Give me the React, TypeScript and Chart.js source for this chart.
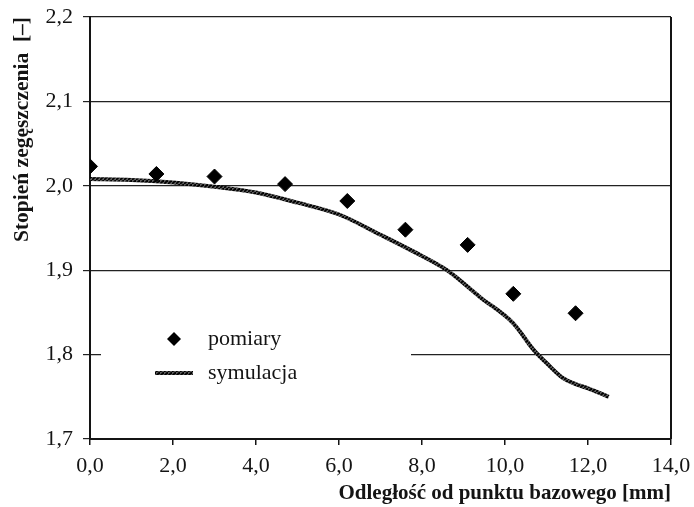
import React, { useEffect, useRef } from 'react';
import { Chart, registerables } from 'chart.js';

Chart.register(...registerables);

// ---- data ----
const measuredX = [0.0, 1.6, 3.0, 4.7, 6.2, 7.6, 9.1, 10.2, 11.7];
const measuredY = [2.023, 2.014, 2.011, 2.002, 1.982, 1.948, 1.930, 1.872, 1.849];

const simX = [0.0, 1.0, 2.0, 3.0, 4.0, 5.0, 6.0, 7.0, 7.8, 8.6, 9.4, 10.2, 10.7, 11.0, 11.4, 11.7, 12.0, 12.5];
const simY = [2.008, 2.007, 2.004, 1.999, 1.992, 1.980, 1.966, 1.942, 1.922, 1.900, 1.868, 1.837, 1.805, 1.790, 1.772, 1.765, 1.760, 1.750];

const xMin = 0;
const xMax = 14;
const xStep = 2;
const yMin = 1.7;
const yMax = 2.2;
const yStep = 0.1;

const seriesNames = ['pomiary', 'symulacja'];
const xTitle = 'Odległość od punktu bazowego [mm]';
const yTitle = 'Stopień zegęszczenia  [–]';

const FONT = "'Liberation Serif', 'Times New Roman', serif";
const INK = '#141414';

function makeRopePattern(): CanvasPattern | string {
  const c = document.createElement('canvas');
  c.width = 4;
  c.height = 4;
  const g = c.getContext('2d');
  if (!g) return '#333';
  g.fillStyle = '#5a5a5a';
  g.fillRect(0, 0, 4, 4);
  g.strokeStyle = '#000000';
  g.lineWidth = 1.8;
  g.beginPath();
  g.moveTo(-1, 5);
  g.lineTo(5, -1);
  g.stroke();
  const p = g.createPattern(c, 'repeat');
  return p || '#333';
}

const comma = (v: number | string) => Number(v).toFixed(1).replace('.', ',');

const frameLegendPlugin = {
  id: 'frameLegend',
  beforeDatasetsDraw(chart: any) {
    const { ctx, chartArea: a } = chart;
    ctx.save();
    // legend background (hides part of the 1,8 gridline)
    ctx.fillStyle = '#ffffff';
    ctx.fillRect(a.left + 11, a.top + 303, 310, 75);
    // right frame line
    ctx.strokeStyle = INK;
    ctx.lineWidth = 2;
    ctx.beginPath();
    ctx.moveTo(a.right, a.top);
    ctx.lineTo(a.right, a.bottom);
    ctx.stroke();
    ctx.restore();
  },
  afterDatasetsDraw(chart: any) {
    const { ctx, chartArea: a } = chart;
    const ds0 = chart.data.datasets[0];
    const ds1 = chart.data.datasets[1];
    ctx.save();
    // diamond marker
    const cx = a.left + 84;
    const cy = a.top + 322;
    const r = 7;
    ctx.fillStyle = ds0.backgroundColor;
    ctx.beginPath();
    ctx.moveTo(cx, cy - r);
    ctx.lineTo(cx + r, cy);
    ctx.lineTo(cx, cy + r);
    ctx.lineTo(cx - r, cy);
    ctx.closePath();
    ctx.fill();
    // line sample
    const ly = a.top + 356;
    ctx.strokeStyle = ds1.borderColor;
    ctx.lineWidth = ds1.borderWidth;
    ctx.beginPath();
    ctx.moveTo(a.left + 65, ly);
    ctx.lineTo(a.left + 103, ly);
    ctx.stroke();
    // texts
    ctx.fillStyle = INK;
    ctx.font = `22px ${FONT}`;
    ctx.textBaseline = 'middle';
    ctx.textAlign = 'left';
    ctx.fillText(ds0.label, a.left + 118, cy);
    ctx.fillText(ds1.label, a.left + 118, ly);
    ctx.restore();
  },
};

export default function App() {
  const ref = useRef<HTMLCanvasElement | null>(null);

  useEffect(() => {
    if (!ref.current) return;
    const rope = makeRopePattern();
    const chart = new Chart(ref.current, {
      type: 'scatter',
      data: {
        datasets: [
          {
            label: seriesNames[0],
            data: measuredX.map((x, i) => ({ x, y: measuredY[i] })),
            pointStyle: 'rectRot',
            pointRadius: 7.5,
            pointBackgroundColor: '#000',
            pointBorderColor: '#000',
            backgroundColor: '#000',
            borderColor: '#000',
            showLine: false,
          },
          {
            label: seriesNames[1],
            data: simX.map((x, i) => ({ x, y: simY[i] })),
            showLine: true,
            borderColor: rope as any,
            borderWidth: 4,
            pointRadius: 0,
            cubicInterpolationMode: 'monotone',
            fill: false,
          },
        ],
      },
      options: {
        responsive: false,
        animation: false,
        layout: { autoPadding: false, padding: { top: 17, right: 23, left: 0, bottom: 0 } },
        plugins: {
          legend: { display: false },
          tooltip: { enabled: false },
        },
        scales: {
          x: {
            type: 'linear',
            min: xMin,
            max: xMax,
            afterFit: (s: any) => {
              s.height = 68;
              s.paddingLeft = 0;
              s.paddingRight = 0;
            },
            ticks: {
              stepSize: xStep,
              color: INK,
              font: { family: FONT, size: 22 },
              padding: 8,
              maxRotation: 0,
              callback: (v: any) => comma(v),
            },
            grid: { drawOnChartArea: false, drawTicks: true, tickLength: 6, color: INK, lineWidth: 1.5 },
            border: { display: true, color: INK, width: 2 },
            title: {
              display: true,
              text: xTitle,
              align: 'end',
              color: INK,
              font: { family: FONT, size: 21, weight: 'bold' },
              padding: { top: 0, bottom: 1 },
            },
          },
          y: {
            type: 'linear',
            min: yMin,
            max: yMax,
            afterFit: (s: any) => {
              s.width = 90;
              s.paddingTop = 0;
              s.paddingBottom = 0;
            },
            ticks: {
              stepSize: yStep,
              color: INK,
              font: { family: FONT, size: 22 },
              padding: 10,
              callback: (v: any) => comma(v),
            },
            grid: { drawOnChartArea: true, drawTicks: true, tickLength: 7, color: '#222', lineWidth: 1.2 },
            border: { display: true, color: INK, width: 2 },
            title: {
              display: true,
              text: yTitle,
              align: 'end',
              color: INK,
              font: { family: FONT, size: 21.5, weight: 'bold' },
              padding: { top: 10, bottom: 0 },
            },
          },
        },
      },
      plugins: [frameLegendPlugin],
    } as any);
    return () => chart.destroy();
  }, []);

  return (
    <div style={{ position: 'absolute', left: 0, top: 0, width: 694, height: 507, background: '#fff' }}>
      <canvas ref={ref} width={694} height={507} style={{ display: 'block' }} />
    </div>
  );
}
